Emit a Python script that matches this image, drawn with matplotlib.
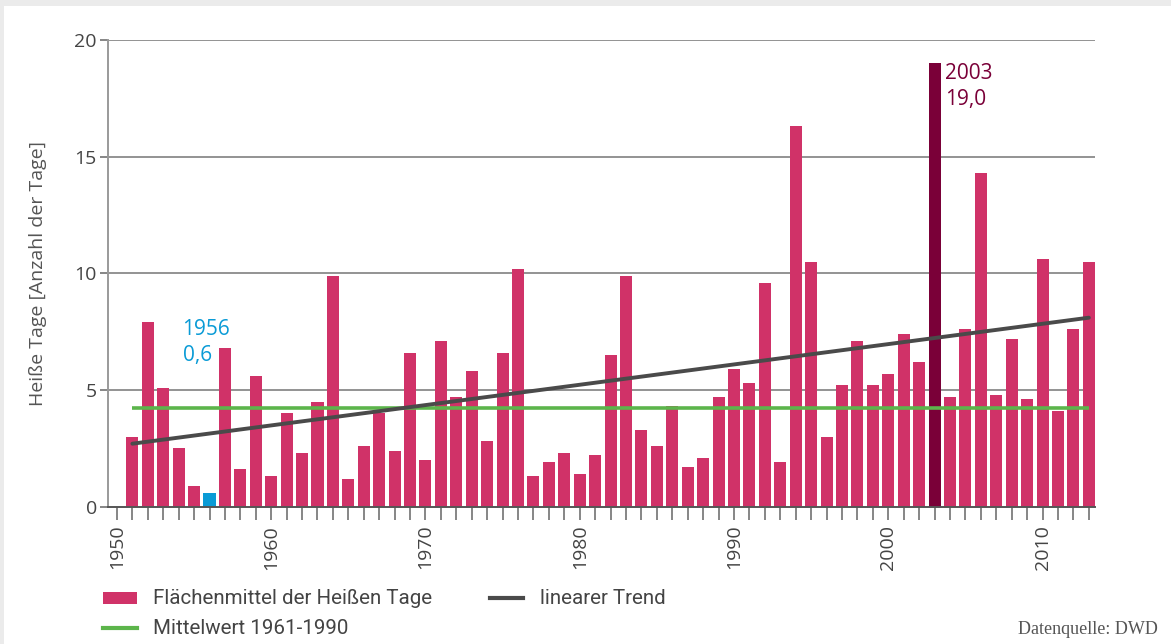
import matplotlib
matplotlib.use("Agg")
import matplotlib.pyplot as plt
from matplotlib.patches import Rectangle
from matplotlib.lines import Line2D

years = list(range(1951, 2014))
hot_days = [3.0, 7.9, 5.1, 2.5, 0.9, 0.6, 6.8, 1.6, 5.6, 1.3,
            4.0, 2.3, 4.5, 9.9, 1.2, 2.6, 4.0, 2.4, 6.6, 2.0,
            7.1, 4.7, 5.8, 2.8, 6.6, 10.2, 1.3, 1.9, 2.3, 1.4,
            2.2, 6.5, 9.9, 3.3, 2.6, 4.3, 1.7, 2.1, 4.7, 5.9,
            5.3, 9.6, 1.9, 16.3, 10.5, 3.0, 5.2, 7.1, 5.2, 5.7,
            7.4, 6.2, 19.0, 4.7, 7.6, 14.3, 4.8, 7.2, 4.6, 10.6,
            4.1, 7.6, 10.5]
mean_1961_1990 = 4.22
trend_years = [1951, 2013]
trend_values = [2.7, 8.1]
yticks = [0, 5, 10, 15, 20]
decade_ticks = [1950, 1960, 1970, 1980, 1990, 2000, 2010]

c_bar = "#D03268"
c_max = "#7A0038"
c_min = "#0A9BD6"
c_green = "#5CB54B"
c_trend = "#4A4A4A"
c_text = "#444444"

plt.rcParams["font.family"] = ["Open Sans", "DejaVu Sans"]

fig = plt.figure(figsize=(11.71, 6.44), dpi=100)
fig.patch.set_facecolor("#EBEBEB")
fig.patches.append(Rectangle((4/1171, 0), 1 - 4/1171, 1 - 6/644, transform=fig.transFigure,
                             facecolor="white", edgecolor="none", zorder=-10))

ax = fig.add_axes([108/1171, 1 - 506.7/644, (1095-108)/1171, (506.7-40)/644])
ax.set_facecolor("none")

colors = []
for y in years:
    if y == 2003:
        colors.append(c_max)
    elif y == 1956:
        colors.append(c_min)
    else:
        colors.append(c_bar)
ax.bar(years, hot_days, width=0.78, color=colors, zorder=3)

ax.plot([1951, 2013], [mean_1961_1990, mean_1961_1990], color=c_green, lw=2.6, zorder=4,
        solid_capstyle="butt")
ax.plot(trend_years, trend_values, color=c_trend, lw=2.8, zorder=5, solid_capstyle="round")

ax.set_xlim(1949.42, 2013.4)
ax.set_ylim(0, 20)

for v in yticks[1:]:
    ax.axhline(v, color="#8A8A8A", lw=1.3, zorder=1)

ax.set_yticks(yticks)
ax.set_yticklabels([str(v) for v in yticks])
ax.set_xticks(list(range(1950, 2014)), minor=True)
ax.set_xticks(decade_ticks)
ax.set_xticklabels([str(v) for v in decade_ticks], rotation=90)
ax.tick_params(axis="x", which="both", direction="out", length=9, width=1.1, color="#666666",
               labelsize=14, labelcolor=c_text, pad=4)
ax.tick_params(axis="y", direction="out", length=6, width=1.1, color="#666666",
               labelsize=14, labelcolor=c_text, pad=2)

for s in ["top", "right"]:
    ax.spines[s].set_visible(False)
ax.spines["left"].set_color("#9A9A9A")
ax.spines["left"].set_linewidth(1.4)
ax.spines["bottom"].set_color("#555555")
ax.spines["bottom"].set_linewidth(1.4)
ax.spines["bottom"].set_zorder(6)

ax.set_ylabel("Heiße Tage [Anzahl der Tage]", fontsize=14, color="#555555", labelpad=20)

ax.text(1954.25, 7.05, "1956\n0,6", color=c_min, fontsize=15, ha="left", va="center",
        linespacing=1.3)
ax.text(2003.7, 18.02, "2003\n19,0", color=c_max, fontsize=15, ha="left", va="center",
        linespacing=1.3)

lfont = dict(fontsize=14.8, color="#444444", va="center",
             family=["Roboto", "DejaVu Sans"])
fig.patches.append(Rectangle((103/1171, 1 - 604/644), 34/1171, 12/644, transform=fig.transFigure,
                             facecolor=c_bar, edgecolor="none"))
fig.text(153/1171, 1 - 598/644, "Flächenmittel der Heißen Tage", **lfont)
fig.lines.append(Line2D([490/1171, 523/1171], [1 - 598/644, 1 - 598/644], transform=fig.transFigure,
                        color=c_trend, lw=3))
fig.text(540/1171, 1 - 598/644, "linearer Trend", **lfont)
fig.lines.append(Line2D([103/1171, 137/1171], [1 - 628/644, 1 - 628/644], transform=fig.transFigure,
                        color=c_green, lw=3))
fig.text(153/1171, 1 - 628/644, "Mittelwert 1961-1990", **lfont)
fig.text(1158/1171, 1 - 629/644, "Datenquelle: DWD", fontsize=13, color="#555555",
         family=["Liberation Serif", "DejaVu Serif"], ha="right", va="center")

fig.savefig("out.png", dpi=100, facecolor=fig.get_facecolor())
